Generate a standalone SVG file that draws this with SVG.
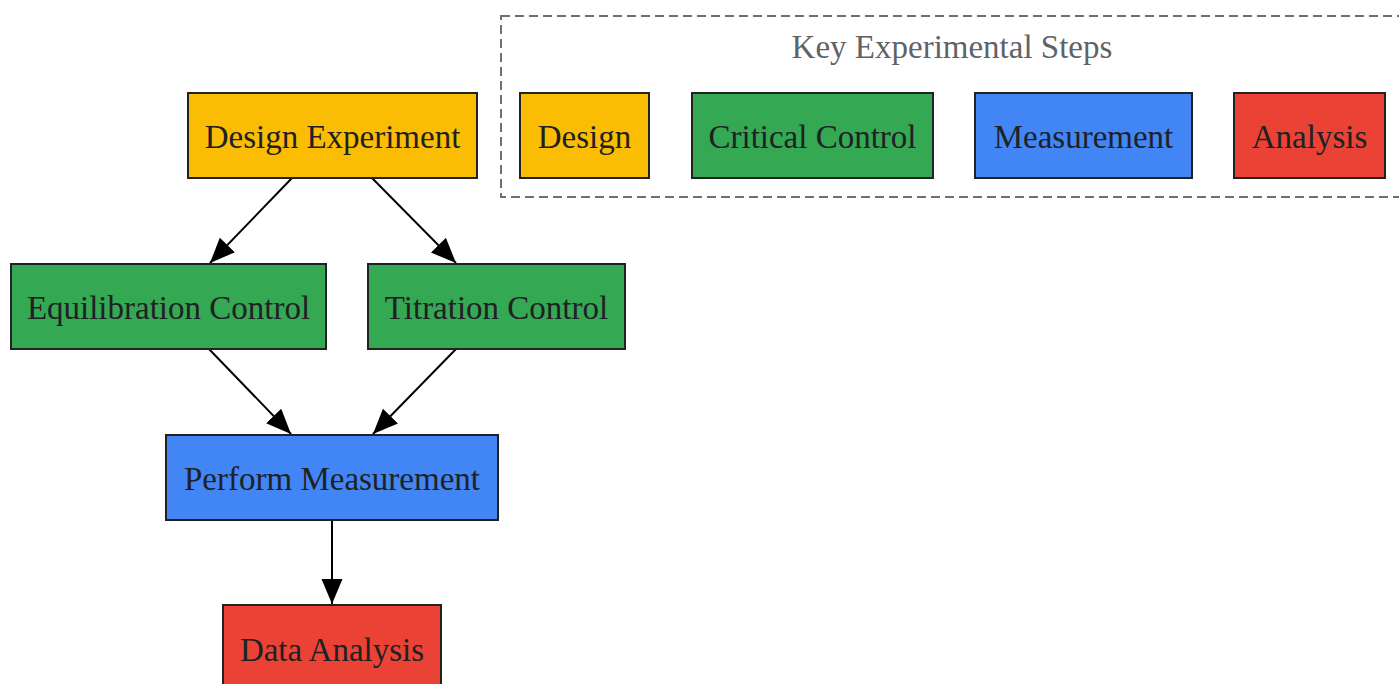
<svg xmlns="http://www.w3.org/2000/svg" width="1399" height="684" viewBox="0 0 1399 684">
<style>
.node rect{stroke:#222222;stroke-width:2}
.y{fill:#FBBC04}.g{fill:#34A853}.b{fill:#4285F4}.r{fill:#EA4335}
text{font-family:"Liberation Serif","Times New Roman",serif;font-size:33px;fill:#202124;text-anchor:middle}
.title{fill:#5f6368}
#edges line{stroke:#000;stroke-width:2;marker-end:url(#ah)}
</style>
<defs>
<marker id="ah" markerUnits="userSpaceOnUse" markerWidth="26" markerHeight="22" refX="25" refY="10.5" orient="auto">
<path d="M0,0 L25,10.5 L0,21 z" fill="#000"/>
</marker>
</defs>
<rect width="1399" height="684" fill="#ffffff"/>
<g id="legend">
<rect x="501" y="16" width="920" height="181" fill="none" stroke="#6f6f6f" stroke-width="2" stroke-dasharray="9,5"/>
<text class="title" x="952" y="58">Key Experimental Steps</text>
<g id="leg-design" class="node"><rect class="y" x="520" y="93" width="129" height="85"/><text x="584.5" y="148">Design</text></g>
<g id="leg-control" class="node"><rect class="g" x="692" y="93" width="241" height="85"/><text x="812.5" y="148">Critical Control</text></g>
<g id="leg-measure" class="node"><rect class="b" x="975" y="93" width="217" height="85"/><text x="1083.5" y="148">Measurement</text></g>
<g id="leg-analysis" class="node"><rect class="r" x="1234" y="93" width="151" height="85"/><text x="1309.5" y="148">Analysis</text></g>
</g>
<g id="edges">
<line x1="292" y1="178" x2="210" y2="263"/>
<line x1="372" y1="178" x2="456" y2="263"/>
<line x1="209" y1="349" x2="291" y2="434"/>
<line x1="456" y1="349" x2="373" y2="434"/>
<line x1="332" y1="520" x2="332" y2="604"/>
</g>
<g id="design" class="node"><rect class="y" x="188" y="93" width="289" height="85"/><text x="332.5" y="148">Design Experiment</text></g>
<g id="equil" class="node"><rect class="g" x="11" y="264" width="315" height="85"/><text x="168.5" y="319">Equilibration Control</text></g>
<g id="titration" class="node"><rect class="g" x="368" y="264" width="257" height="85"/><text x="496.5" y="319">Titration Control</text></g>
<g id="measure" class="node"><rect class="b" x="166" y="435" width="332" height="85"/><text x="332" y="490">Perform Measurement</text></g>
<g id="analysis" class="node"><rect class="r" x="223" y="605" width="218" height="85"/><text x="332" y="661">Data Analysis</text></g>
</svg>
